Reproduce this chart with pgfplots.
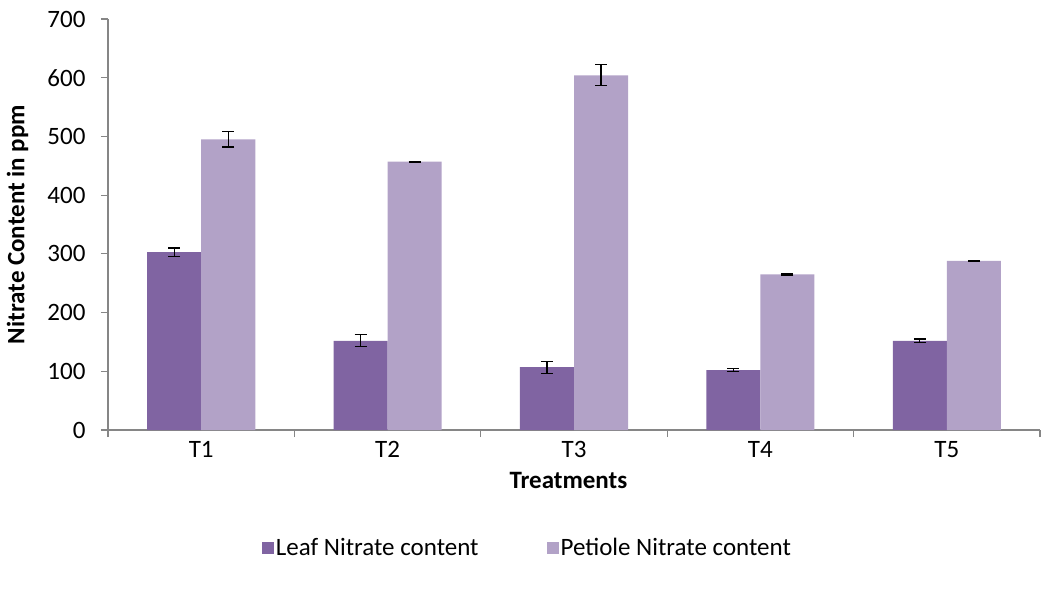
\documentclass[border=0pt]{standalone}
\usepackage{fontspec}
\setmainfont{Carlito}
\usepackage{pgfplots}
\pgfplotsset{compat=1.18}
\definecolor{leafc}{HTML}{8064A2}
\definecolor{petc}{HTML}{B2A2C7}
\definecolor{axc}{HTML}{868686}
\begin{document}
\begin{tikzpicture}
\begin{axis}[
  name=ax,
  scale only axis,
  width=932pt, height=411pt,
  xmin=0.5, xmax=5.5, ymin=0, ymax=700,
  axis x line*=bottom, axis y line*=left,
  axis line style={axc, line width=1.2pt},
  xtick={0.5,1.5,2.5,3.5,4.5,5.5},
  xticklabels={},
  extra x ticks={1,2,3,4,5},
  extra x tick labels={T1,T2,T3,T4,T5},
  extra x tick style={major tick length=0pt, xticklabel style={yshift=-8pt}},
  ytick={0,100,...,700},
  tick align=outside,
  tick style={axc, line width=1.2pt},
  major tick length=7pt,
  every tick label/.style={font=\fontsize{25}{30}\selectfont},
  /pgf/number format/assume math mode=true,
  yticklabel style={xshift=-12pt},
  xlabel={\textbf{Treatments}},
  ylabel={\textbf{Nitrate Content in ppm}},
  label style={font=\fontsize{25}{30}\selectfont},
  xlabel style={at={(axis description cs:0.494,-0.122)}, anchor=center},
  ylabel style={at={(axis description cs:-0.097,0.5)}, anchor=center},
  ybar, bar width=0.29,
  legend style={at={(axis description cs:0.45,-0.287)}, anchor=center, draw=none,
    font=\fontsize{25}{30}\selectfont, legend columns=2,
    /tikz/every even column/.append style={column sep=66pt}},
  legend image code/.code={\fill[#1] (0pt,-6pt) rectangle (12pt,6pt);},
  error bars/error bar style={black, line width=1.1pt},
  error bars/error mark options={black, rotate=90, mark size=6pt, line width=1.1pt},
]
\addplot[fill=leafc, draw=none, bar shift=-0.145,
  error bars/.cd, y dir=both, y explicit]
  coordinates {(1,303) +- (0,7) (2,152) +- (0,10) (3,107) +- (0,10) (4,102) +- (0,2) (5,152) +- (0,3)};
\addplot[fill=petc, draw=none, bar shift=0.145,
  error bars/.cd, y dir=both, y explicit]
  coordinates {(1,495) +- (0,13) (2,457) +- (0,1) (3,604) +- (0,18) (4,265) +- (0,1) (5,288) +- (0,1)};
\legend{Leaf Nitrate content, Petiole Nitrate content}
\end{axis}
\path (ax.south west) ++(-108pt,-160pt) coordinate (bbA);
\path (ax.south west) ++(936pt,430pt) coordinate (bbB);
\path[use as bounding box] (bbA) rectangle (bbB);
\end{tikzpicture}
\end{document}
